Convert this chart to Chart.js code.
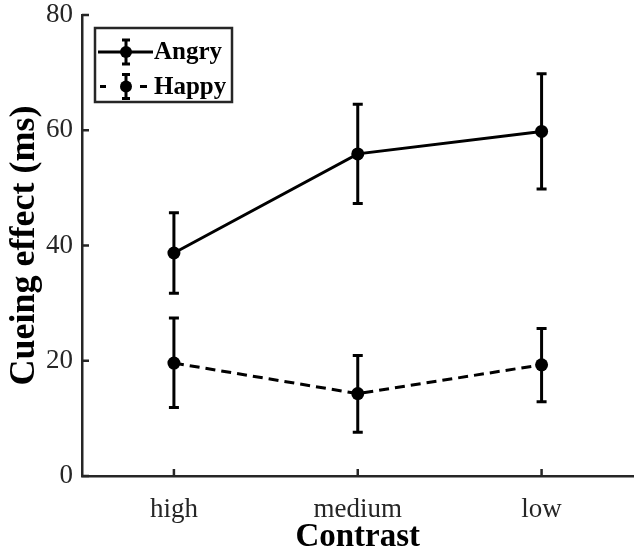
<!DOCTYPE html>
<html><head><meta charset="utf-8">
<script src="https://cdn.jsdelivr.net/npm/chart.js@4.4.0/dist/chart.umd.min.js"></script>
<style>html,body{margin:0;padding:0;background:#fff;overflow:hidden;width:636px;height:554px}#wrap{width:640px;height:554px;position:relative}</style>
</head><body><div id="wrap"><canvas id="c"></canvas></div>
<script>
const categories = ['high', 'medium', 'low'];
const angryMean = [38.7, 55.9, 59.8];
const angryLow  = [31.7, 47.3, 49.8];
const angryHigh = [45.7, 64.5, 69.8];
const happyMean = [19.6, 14.3, 19.3];
const happyLow  = [11.9, 7.6, 12.9];
const happyHigh = [27.4, 20.9, 25.6];
const yTicks = [0, 20, 40, 60, 80];

const AXIS = '#262626';
const SERIF = '"Liberation Serif", "Times New Roman", serif';

const errPlugin = {
  id: 'errBars',
  beforeDatasetsDraw(chart) {
    const ctx = chart.ctx, xs = chart.scales.x, ys = chart.scales.y;
    ctx.save();
    ctx.strokeStyle = '#000'; ctx.lineWidth = 3; ctx.lineCap = 'butt'; ctx.setLineDash([]);
    chart.data.datasets.forEach(ds => {
      ds.errLow.forEach((lo, i) => {
        const x = xs.getPixelForValue(i);
        const y1 = ys.getPixelForValue(lo), y2 = ys.getPixelForValue(ds.errHigh[i]);
        ctx.beginPath();
        ctx.moveTo(x, y1); ctx.lineTo(x, y2);
        ctx.moveTo(x - 5, y1); ctx.lineTo(x + 5, y1);
        ctx.moveTo(x - 5, y2); ctx.lineTo(x + 5, y2);
        ctx.stroke();
      });
    });
    ctx.restore();
  }
};

const tickPlugin = {
  id: 'inTicks',
  afterDatasetsDraw(chart) {
    const ctx = chart.ctx, xs = chart.scales.x, ys = chart.scales.y, a = chart.chartArea;
    ctx.save();
    ctx.strokeStyle = AXIS; ctx.lineWidth = 2.5; ctx.setLineDash([]);
    ctx.beginPath();
    xs.ticks.forEach((t, i) => { const x = xs.getPixelForTick(i); ctx.moveTo(x, a.bottom); ctx.lineTo(x, a.bottom - 7); });
    ys.ticks.forEach((t, i) => { const y = ys.getPixelForTick(i); ctx.moveTo(a.left, y); ctx.lineTo(a.left + 7, y); });
    ctx.stroke();
    ctx.restore();
  }
};

const legendPlugin = {
  id: 'boxLegend',
  afterDraw(chart) {
    const ctx = chart.ctx, a = chart.chartArea;
    const x0 = a.left + 13, y0 = a.top + 13, w = 137, h = 74;
    ctx.save();
    ctx.fillStyle = '#fff'; ctx.fillRect(x0, y0, w, h);
    ctx.strokeStyle = AXIS; ctx.lineWidth = 2.5; ctx.strokeRect(x0, y0, w, h);
    ctx.font = 'bold 25px ' + SERIF; ctx.textBaseline = 'middle'; ctx.textAlign = 'left';
    chart.data.datasets.forEach((ds, i) => {
      const cy = y0 + 24 + i * 34.5, cx = x0 + 31;
      ctx.strokeStyle = '#000'; ctx.fillStyle = '#000'; ctx.lineWidth = 3; ctx.setLineDash([]);
      ctx.beginPath();
      if (ds.borderDash && ds.borderDash.length) {
        ctx.moveTo(cx - 26, cy); ctx.lineTo(cx - 20, cy);
        ctx.moveTo(cx + 14, cy); ctx.lineTo(cx + 21, cy);
      } else {
        ctx.moveTo(cx - 28, cy); ctx.lineTo(cx + 27, cy);
      }
      ctx.moveTo(cx, cy - 12); ctx.lineTo(cx, cy + 12);
      ctx.moveTo(cx - 4, cy - 12); ctx.lineTo(cx + 4, cy - 12);
      ctx.moveTo(cx - 4, cy + 12); ctx.lineTo(cx + 4, cy + 12);
      ctx.stroke();
      ctx.beginPath(); ctx.arc(cx, cy, 6, 0, Math.PI * 2); ctx.fill();
      ctx.fillText(ds.label, x0 + 59, cy + 1);
    });
    ctx.restore();
  }
};

new Chart(document.getElementById('c'), {
  type: 'line',
  data: {
    labels: categories,
    datasets: [
      { label: 'Angry', data: angryMean, errLow: angryLow, errHigh: angryHigh,
        borderColor: '#000', backgroundColor: '#000', borderWidth: 3,
        pointRadius: 6.5, pointHoverRadius: 6.5, pointBackgroundColor: '#000', pointBorderWidth: 0, tension: 0 },
      { label: 'Happy', data: happyMean, errLow: happyLow, errHigh: happyHigh,
        borderColor: '#000', backgroundColor: '#000', borderWidth: 3, borderDash: [10, 6],
        pointRadius: 6.5, pointHoverRadius: 6.5, pointBackgroundColor: '#000', pointBorderWidth: 0, tension: 0 }
    ]
  },
  options: {
    responsive: true, maintainAspectRatio: false, animation: false, devicePixelRatio: 1,
    layout: { padding: { top: 15, right: 0, left: 0, bottom: 0 } },
    plugins: { legend: { display: false }, tooltip: { enabled: false } },
    scales: {
      x: {
        type: 'category', offset: true,
        grid: { display: false, drawTicks: false },
        border: { display: true, color: AXIS, width: 2.5 },
        ticks: { font: { family: SERIF, size: 27, lineHeight: 1.0 }, color: AXIS, padding: 20, maxRotation: 0 },
        title: { display: true, text: 'Contrast', color: '#000', font: { family: SERIF, size: 33, weight: 'bold', lineHeight: 1.0 }, padding: 0 },
        afterFit(s) { s.height = 78; }
      },
      y: {
        min: 0, max: 80,
        grid: { display: false, drawTicks: false },
        border: { display: true, color: AXIS, width: 2.5 },
        ticks: { font: { family: SERIF, size: 27, lineHeight: 0.4 }, color: AXIS, padding: 9 },
        afterBuildTicks(s) { s.ticks = yTicks.map(v => ({ value: v })); },
        title: { display: true, text: 'Cueing effect (ms)', color: '#000', font: { family: SERIF, size: 36, weight: 'bold', lineHeight: 1.2 }, padding: { top: 3, bottom: 0 } },
        afterFit(s) { s.width = 82; }
      }
    }
  },
  plugins: [errPlugin, tickPlugin, legendPlugin]
});
</script>
</body></html>
